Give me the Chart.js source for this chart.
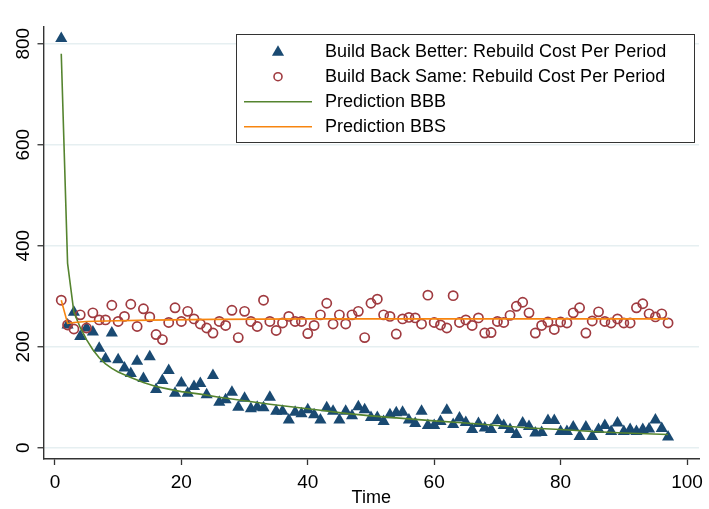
<!DOCTYPE html>
<html>
<head>
<meta charset="utf-8">
<script src="https://cdn.jsdelivr.net/npm/chart.js@4/dist/chart.umd.min.js"></script>
<style>
  html, body { margin: 0; padding: 0; background: #ffffff; }
  #wrap { width: 709px; height: 509px; }
</style>
</head>
<body>
<div id="wrap"><canvas id="c" width="709" height="509"></canvas></div>
<script>
// Rebuild cost per period over time, two rebuilding policies
const time = [1,2,3,4,5,6,7,8,9,10,11,12,13,14,15,16,17,18,19,20,21,22,23,24,25,26,27,28,29,30,31,32,33,34,35,36,37,38,39,40,41,42,43,44,45,46,47,48,49,50,51,52,53,54,55,56,57,58,59,60,61,62,63,64,65,66,67,68,69,70,71,72,73,74,75,76,77,78,79,80,81,82,83,84,85,86,87,88,89,90,91,92,93,94,95,96,97];

const bbbCost = [810,243,268,220,237,229,197,176,227,174,158,147,171,137,180,115,133,153,108,128,108,121,127,105,143,90,95,110,80,98,77,80,79,100,72,72,55,70,67,75,65,55,79,72,55,72,63,81,75,60,60,52,65,69,70,55,48,72,44,44,52,74,46,59,50,36,48,39,36,54,44,36,26,49,42,29,30,54,54,32,32,41,22,41,22,36,44,32,49,32,36,32,36,37,55,38,21];

const bbsCost = [292,243,235,263,237,267,253,253,282,250,260,284,240,275,259,224,214,248,277,250,270,255,245,237,227,250,242,272,218,270,250,240,292,250,232,247,260,250,250,226,242,263,286,245,263,245,263,270,218,286,294,263,260,225,255,258,257,245,302,248,243,237,301,248,253,242,257,227,228,250,248,262,280,288,267,227,242,249,234,249,247,267,277,227,251,269,250,247,255,247,247,277,285,265,259,265,247];

// Fitted curves
const predBBBTime = [1,2,3,4,5,6,7,8,9,10,12,14,16,18,20,23,26,30,34,38,42,46,50,55,60,65,70,75,80,85,90,97];
const predBBB = [780,365,268,238,214,194,178,166,157,150,139,129,121,116,111,106,100,93,86,80,74,68,63,58,53,49,44,39,36,32,29,26];

const predBBSTime = [1,2,3,5,8,15,25,40,60,97];
const predBBS = [292,246,248,250,251,252.5,254,255,255,255];

const xTicks = [0,20,40,60,80,100];
const yTicks = [0,200,400,600,800];

const seriesNames = [
  'Build Back Better: Rebuild Cost Per Period',
  'Build Back Same: Rebuild Cost Per Period',
  'Prediction BBB',
  'Prediction BBS'
];

const FONT = "'Liberation Sans', Arial, Helvetica, sans-serif";
Chart.defaults.font.family = FONT;
Chart.defaults.color = '#000';

const NAVY = '#1a4a72';
const MAROON = '#a03b40';
const GREEN = '#55842f';
const ORANGE = '#f7850f';

const toXY = (xs, ys) => xs.map((x, i) => ({ x: x, y: ys[i] }));

// Vertical tick labels on the y axis, placed at the scale's tick pixels
const yLabelPlugin = {
  id: 'yLabels',
  afterDraw(chart) {
    const ctx = chart.ctx;
    const ys = chart.scales.y;
    ctx.save();
    ctx.font = '19px ' + FONT;
    ctx.fillStyle = '#000';
    ctx.textAlign = 'center';
    ctx.textBaseline = 'middle';
    yTicks.forEach(v => {
      const py = ys.getPixelForValue(v);
      ctx.save();
      ctx.translate(23.5, py);
      ctx.rotate(-Math.PI / 2);
      ctx.fillText(String(v), 0, 0);
      ctx.restore();
    });
    ctx.restore();
  }
};

// Boxed legend inside the plot region
const boxLegendPlugin = {
  id: 'boxLegend',
  afterDraw(chart) {
    const ctx = chart.ctx;
    const bx = 236.5, by = 34.5, bw = 458, bh = 108;
    ctx.save();
    ctx.fillStyle = '#ffffff';
    ctx.fillRect(bx, by, bw, bh);
    ctx.strokeStyle = '#333';
    ctx.lineWidth = 1;
    ctx.strokeRect(bx, by, bw, bh);

    const rows = [51.7, 76.7, 101.7, 126.7];
    const mx = 278;
    // triangle
    const r = 7;
    const cy = rows[0] + 0.5;
    ctx.fillStyle = NAVY;
    ctx.beginPath();
    ctx.moveTo(mx, cy - r);
    ctx.lineTo(mx + r * Math.sin(2 * Math.PI / 3), cy - r * Math.cos(2 * Math.PI / 3));
    ctx.lineTo(mx + r * Math.sin(4 * Math.PI / 3), cy - r * Math.cos(4 * Math.PI / 3));
    ctx.closePath();
    ctx.fill();
    // hollow circle
    ctx.strokeStyle = MAROON;
    ctx.lineWidth = 1.6;
    ctx.beginPath();
    ctx.arc(mx, rows[1], 4, 0, Math.PI * 2);
    ctx.stroke();
    // lines
    ctx.lineWidth = 1.5;
    ctx.strokeStyle = GREEN;
    ctx.beginPath(); ctx.moveTo(244, rows[2]); ctx.lineTo(312, rows[2]); ctx.stroke();
    ctx.strokeStyle = ORANGE;
    ctx.beginPath(); ctx.moveTo(244, rows[3]); ctx.lineTo(312, rows[3]); ctx.stroke();

    ctx.fillStyle = '#000';
    ctx.font = '18px ' + FONT;
    ctx.textAlign = 'left';
    ctx.textBaseline = 'middle';
    seriesNames.forEach((t, i) => ctx.fillText(t, 325, rows[i] + 0.5));
    ctx.restore();
  }
};

new Chart(document.getElementById('c'), {
  type: 'scatter',
  data: {
    datasets: [
      {
        label: seriesNames[0],
        data: toXY(time, bbbCost),
        pointStyle: 'triangle',
        pointRadius: 7,
        pointHoverRadius: 7,
        backgroundColor: NAVY,
        borderColor: NAVY,
        borderWidth: 0,
        showLine: false,
        order: 3
      },
      {
        label: seriesNames[1],
        data: toXY(time, bbsCost),
        pointStyle: 'circle',
        pointRadius: 4.6,
        pointHoverRadius: 4.6,
        backgroundColor: 'rgba(0,0,0,0)',
        borderColor: MAROON,
        borderWidth: 1.7,
        showLine: false,
        order: 2
      },
      {
        label: seriesNames[2],
        data: toXY(predBBBTime, predBBB),
        showLine: true,
        pointRadius: 0,
        borderColor: GREEN,
        borderWidth: 1.6,
        tension: 0,
        order: 1
      },
      {
        label: seriesNames[3],
        data: toXY(predBBSTime, predBBS),
        showLine: true,
        pointRadius: 0,
        borderColor: ORANGE,
        borderWidth: 1.6,
        tension: 0,
        order: 0
      }
    ]
  },
  options: {
    responsive: false,
    animation: false,
    events: [],
    layout: { padding: { top: 27, right: 7, left: 0, bottom: 0 } },
    plugins: {
      legend: { display: false },
      tooltip: { enabled: false }
    },
    scales: {
      x: {
        type: 'linear',
        min: -1.81,
        max: 101.9,
        afterBuildTicks: s => { s.ticks = xTicks.map(v => ({ value: v })); },
        afterFit: s => { s.height = 50; },
        grid: {
          drawOnChartArea: false,
          drawTicks: true,
          tickLength: 6,
          tickColor: '#333',
          tickWidth: 1.3
        },
        border: { display: true, color: '#333', width: 1.4 },
        ticks: {
          padding: 6,
          maxRotation: 0,
          font: { size: 19 },
          color: '#000'
        },
        title: {
          display: true,
          text: 'Time',
          font: { size: 18 },
          color: '#000',
          padding: { top: 0, bottom: 0 }
        }
      },
      y: {
        type: 'linear',
        min: -22.4,
        max: 833,
        afterBuildTicks: s => { s.ticks = yTicks.map(v => ({ value: v })); },
        afterFit: s => { s.width = 43.5; },
        grid: {
          color: '#e6eff1',
          lineWidth: 1.5,
          drawTicks: true,
          tickLength: 6,
          tickColor: '#333',
          tickWidth: 1.3
        },
        border: { display: true, color: '#333', width: 1.4 },
        ticks: { display: false }
      }
    }
  },
  plugins: [yLabelPlugin, boxLegendPlugin]
});
</script>
</body>
</html>
